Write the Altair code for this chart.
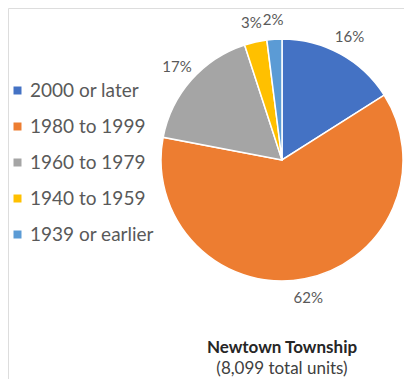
import altair as alt
import pandas as pd

categories = ["2000 or later", "1980 to 1999", "1960 to 1979", "1940 to 1959", "1939 or earlier"]
values = [16, 62, 17, 3, 2]
colors = ["#4472C4", "#ED7D31", "#A5A5A5", "#FFC000", "#5B9BD5"]
title_lines = ["Newtown Township", "(8,099 total units)"]

df = pd.DataFrame({
    "category": categories,
    "value": values,
    "order": list(range(len(categories))),
    "label": [f"{v}%" for v in values],
})

FONT = "Lato"
cx, cy, r = 274, 152, 121

base = alt.Chart(df).encode(
    theta=alt.Theta("value:Q", stack=True),
    order=alt.Order("order:Q"),
)

pie = base.mark_arc(stroke="white", strokeWidth=1.5).encode(
    x=alt.value(cx),
    y=alt.value(cy),
    radius=alt.value(r),
    color=alt.Color(
        "category:N",
        scale=alt.Scale(domain=categories, range=colors),
        sort=categories,
        legend=alt.Legend(
            title=None,
            orient="none",
            legendX=0,
            legendY=73,
            padding=0,
            symbolType="square",
            symbolSize=64,
            symbolStrokeWidth=0,
            labelFontSize=19,
            labelFont=FONT,
            labelColor="#595959",
            rowPadding=16,
            labelOffset=3,
        ),
    ),
)

labels = base.mark_text(font=FONT, fontSize=15, color="#595959").encode(
    x=alt.value(cx),
    y=alt.value(cy),
    radius=alt.value(140),
    text="label:N",
)

tdf = pd.DataFrame({"t": title_lines, "i": [0, 1]})
t1 = alt.Chart(tdf[tdf.i == 0]).mark_text(font=FONT, fontSize=17, fontWeight="bold", color="#262626").encode(
    x=alt.value(cx), y=alt.value(340), text="t:N")
t2 = alt.Chart(tdf[tdf.i == 1]).mark_text(font=FONT, fontSize=17, color="#404040").encode(
    x=alt.value(cx), y=alt.value(361), text="t:N")

chart = alt.layer(pie, labels, t1, t2).properties(
    width=396, height=371, padding=0, autosize=alt.AutoSizeParams(type="none")
).configure_view(stroke=None).configure(background="white")

chart.save("out.html", embed_options={"renderer": "svg", "actions": False})
